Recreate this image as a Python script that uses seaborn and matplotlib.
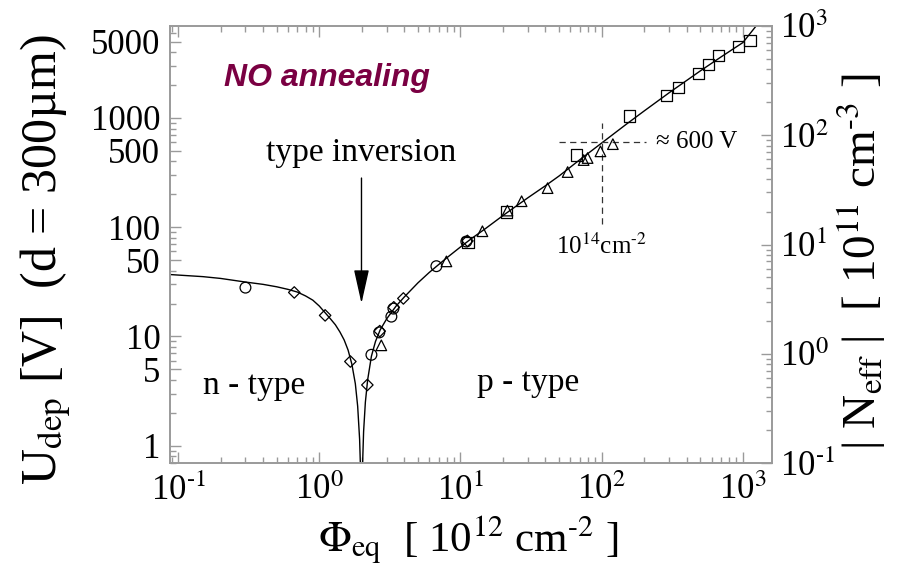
import matplotlib
matplotlib.use("Agg")
import matplotlib.pyplot as plt
from matplotlib.ticker import FixedLocator, FixedFormatter, LogLocator, NullFormatter, FuncFormatter
import numpy as np
import pandas as pd
import seaborn as sns

# Fitted depletion-voltage curve: fluence [1e12 cm^-2] vs U_dep [V]
curve_phi = [0.085, 0.1, 0.15, 0.2, 0.3, 0.4, 0.5, 0.6, 0.7, 0.8, 0.9, 1.0, 1.1, 1.2,
             1.3, 1.4, 1.5, 1.6, 1.7, 1.8, 1.87, 1.93, 1.96, 1.99, 2.02, 2.06, 2.12,
             2.2, 2.34, 2.5, 2.7, 3.0, 3.5, 4.0, 5.0, 6.0, 7.0, 8.0, 10, 12, 15, 20,
             30, 40, 50, 70, 100, 150, 200, 300, 500, 700, 1000, 1300]
curve_u = [37.0, 36.5, 35.3, 34.0, 31.5, 30.0, 28.5, 27.0, 25.5, 23.5, 21.5, 19.0, 16.5,
           14.5, 12.8, 11.0, 9.3, 7.5, 5.6, 3.7, 2.3, 1.15, 0.6, 0.05, 0.6, 1.35, 2.5,
           4.0, 6.6, 9.0, 11.5, 14.5, 19.0, 23.0, 31.0, 38.5, 45.5, 52.5, 66, 79, 97,
           128, 186, 240, 295, 415, 590, 880, 1160, 1700, 2700, 3620, 4900, 7500]

# Measured points, one list pair per marker shape
circle_phi = [0.30, 2.34, 2.66, 3.24, 3.35, 6.75, 11.0]
circle_u = [28.0, 6.8, 10.9, 15.2, 18.0, 44.0, 74.0]
diamond_phi = [0.665, 1.10, 1.66, 2.19, 2.68, 3.37, 3.94, 11.2]
diamond_u = [25.3, 15.6, 5.9, 3.6, 11.2, 18.5, 22.3, 75.0]
triangle_phi = [2.75, 7.95, 14.3, 21.5, 27.1, 41.4, 57.4, 74.5, 79.5, 98, 120]
triangle_u = [8.3, 48.7, 91.9, 142, 173, 228, 320, 412, 430, 495, 576]
square_phi = [11.3, 21.3, 66.5, 158, 289, 352, 488, 574, 676, 937, 1122]
square_u = [73.0, 138, 458, 1043, 1592, 1884, 2533, 3064, 3704, 4480, 5080]

left_ticks = [1, 5, 10, 50, 100, 500, 1000, 5000]
left_tick_labels = ["1", "5", "10", "50", "100", "500", "1000", "5000"]

U_PER_N = 6.95          # volts per 1e11 cm^-3 at d = 300 um
N_LIM = (0.1, 1000)
PHI_LIM = (10 ** -1.057, 10 ** 3.206)
MARK_PHI, MARK_U = 100, 600

sns.set_theme(style="white")
plt.rcParams["font.family"] = ["Liberation Serif", "DejaVu Serif"]
plt.rcParams["mathtext.fontset"] = "stix"
plt.rcParams["text.color"] = "black"
plt.rcParams["axes.labelcolor"] = "black"

SPINE = "#9a9a9a"


def decade_label(v, pos=None):
    e = int(round(np.log10(v)))
    if e < 0:
        return r"10$^{\text{-}%d}$" % (-e)
    return r"10$^{%d}$" % e


fig = plt.figure(figsize=(9.03, 5.70), dpi=100)
ax = fig.add_axes([0.1883, 0.1877, 0.6666, 0.7667])
ax.set_xscale("log")
ax.set_yscale("log")

curve = pd.DataFrame({"phi": curve_phi, "U": curve_u})
sns.lineplot(data=curve, x="phi", y="U", sort=False, estimator=None,
             color="black", linewidth=1.0, ax=ax)


def open_markers(px, py, marker, size):
    sns.scatterplot(x=px, y=py, marker=marker, s=size, color="black",
                    facecolors="none", edgecolor="black", linewidth=0.9,
                    ax=ax, zorder=3)


open_markers(circle_phi, circle_u, "o", 60)
open_markers(diamond_phi, diamond_u, "D", 34)
open_markers(triangle_phi, triangle_u, "^", 58)
open_markers(square_phi, square_u, "s", 64)

ax.set_xlim(*PHI_LIM)
ax.set_ylim(N_LIM[0] * U_PER_N, N_LIM[1] * U_PER_N)

# 10^14 cm^-2 / 600 V guide lines
ax.plot([49.5, 205], [MARK_U, MARK_U], ls=(0, (5, 3.5)), color="#333333", lw=0.9)
ax.plot([MARK_PHI, MARK_PHI], [107, 900], ls=(0, (5, 3.5)), color="#333333", lw=0.9)

ax.text(241, MARK_U, "\u2248 600 V", fontsize=18, ha="left", va="center")
ax.text(MARK_PHI, 56.5, r"10$^{14}$cm$^{\text{-}2}$", fontsize=18, ha="center", va="baseline")
ax.text(0.346, 3.0, "n - type", fontsize=24, ha="center", va="baseline")
ax.text(30.1, 3.2, "p - type", fontsize=24, ha="center", va="baseline")
ax.text(1.99, 478, "type inversion", fontsize=24, ha="center", va="center")
ax.annotate("", xy=(1.99, 20.1), xytext=(1.99, 282),
            arrowprops=dict(arrowstyle="-|>,head_length=2.1,head_width=0.47",
                            mutation_scale=10, color="black", lw=1.0,
                            shrinkA=0, shrinkB=0))
ax.text(0.212, 1967, "NO annealing", fontsize=23, ha="left", va="baseline",
        family="Liberation Sans", weight="bold", style="italic", color="#7a0042")

# left axis: depletion voltage
ax.yaxis.set_major_locator(FixedLocator(left_ticks))
ax.yaxis.set_major_formatter(FixedFormatter(left_tick_labels))
ax.yaxis.set_minor_locator(LogLocator(base=10, subs=np.arange(2, 10)))
ax.yaxis.set_minor_formatter(NullFormatter())
ax.xaxis.set_major_locator(LogLocator(base=10, numticks=10))
ax.xaxis.set_major_formatter(FuncFormatter(decade_label))
ax.xaxis.set_minor_locator(LogLocator(base=10, subs=np.arange(2, 10), numticks=20))
ax.xaxis.set_minor_formatter(NullFormatter())

ax.tick_params(axis="both", which="both", direction="in", color=SPINE, width=1.0,
               labelsize=25, labelcolor="black")
ax.tick_params(axis="x", which="both", top=True, bottom=True, pad=8)
ax.tick_params(axis="y", which="both", left=True, right=False, pad=7)
ax.tick_params(which="major", length=8)
ax.tick_params(which="minor", length=4)
for s in ax.spines.values():
    s.set_color(SPINE)
    s.set_linewidth(1.2)

ax.set_xlabel("")
ax.set_ylabel("")

# right axis: effective doping concentration
ax2 = ax.twinx()
ax2.set_yscale("log")
ax2.set_ylim(*N_LIM)
ax2.yaxis.set_major_locator(LogLocator(base=10, numticks=10))
ax2.yaxis.set_major_formatter(FuncFormatter(decade_label))
ax2.yaxis.set_minor_locator(LogLocator(base=10, subs=np.arange(2, 10), numticks=20))
ax2.yaxis.set_minor_formatter(NullFormatter())
ax2.tick_params(axis="y", which="both", direction="in", color=SPINE, width=1.0,
                labelsize=25, labelcolor="black", pad=6)
ax2.tick_params(which="major", length=8)
ax2.tick_params(which="minor", length=4)
for s in ax2.spines.values():
    s.set_color(SPINE)
    s.set_linewidth(1.2)

fig.text(0.050, 0.545, r"U$_{\rm dep}$ [V]  (d = 300µm)", rotation=90,
         fontsize=36, ha="center", va="center")
fig.text(0.519, 0.052, r"$\Phi_{\rm eq}$  [ 10$^{12}$ cm$^{\text{-}2}$ ]",
         fontsize=31, ha="center", va="center")
fig.text(0.953, 0.54, r"| N$_{\rm eff}$ |  [ 10$^{11}$ cm$^{\text{-}3}$ ]", rotation=90,
         fontsize=34, ha="center", va="center")

fig.savefig("out.png", dpi=100, facecolor="white")
